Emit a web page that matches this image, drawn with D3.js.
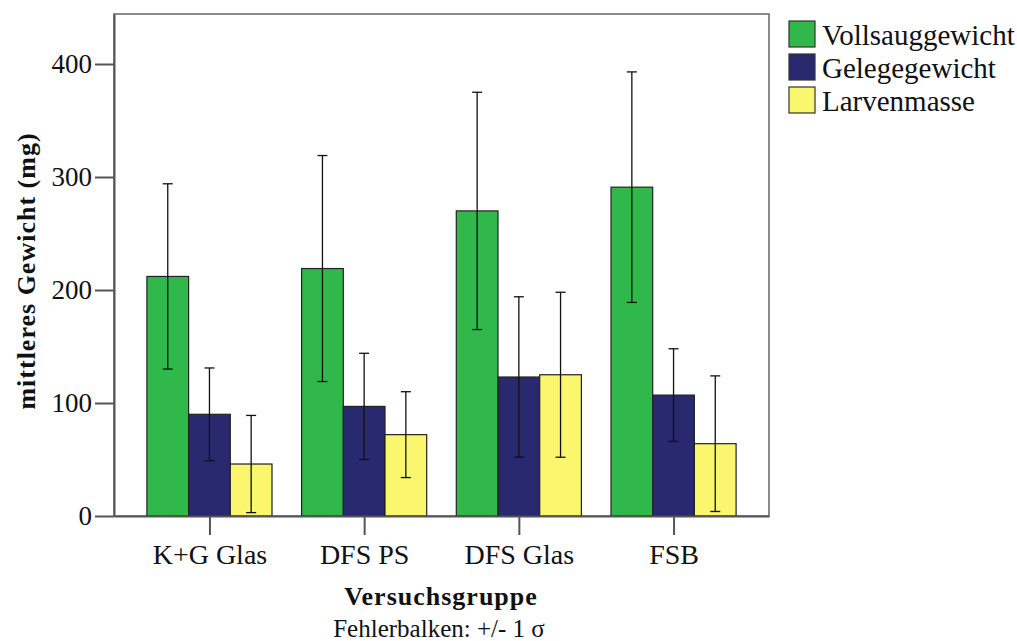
<!DOCTYPE html>
<html>
<head>
<meta charset="utf-8">
<script src="https://cdn.jsdelivr.net/npm/d3@7"></script>
<style>
  body { margin: 0; background: white; }
  text { font-family: "Liberation Serif", "Times New Roman", serif; fill: #111; }
</style>
</head>
<body>
<div id="chart"></div>
<script>
let w = 1017;
let h = 641;

// data
let groups = ["K+G Glas", "DFS PS", "DFS Glas", "FSB"];
let seriesNames = ["Vollsauggewicht", "Gelegegewicht", "Larvenmasse"];
let seriesColors = ["#31b84a", "#29296f", "#faf66e"];
let vollsaug = [212, 219, 270, 291];
let vollsaugSd = [82, 100, 105, 102];
let gelege = [90, 97, 123, 107];
let gelegeSd = [41, 47, 71, 41];
let larven = [46, 72, 125, 64];
let larvenSd = [43, 38, 73, 60];
let yTicks = [0, 100, 200, 300, 400];

let means = [vollsaug, gelege, larven];
let sds = [vollsaugSd, gelegeSd, larvenSd];

let pLeft = 114, pRight = 769, pTop = 14, pBottom = 516;

let svg = d3.select("#chart").append("svg")
  .attr("width", w)
  .attr("height", h);

let x = d3.scalePoint()
  .domain(groups)
  .range([pLeft, pRight])
  .padding(0.617);

let y = d3.scaleLinear()
  .domain([0, (pBottom - pTop) / 1.13])
  .range([pBottom, pTop]);

let barW = 41.7;

// frame
svg.append("rect")
  .attr("x", pLeft).attr("y", pTop)
  .attr("width", pRight - pLeft).attr("height", pBottom - pTop)
  .attr("fill", "none")
  .attr("stroke", "#666")
  .attr("stroke-width", 1.5);

// bars
let data = [];
groups.forEach((g, gi) => {
  seriesNames.forEach((s, si) => {
    data.push({group: g, si: si, mean: means[si][gi], sd: sds[si][gi]});
  });
});

let barX = d => x(d.group) + (d.si - 1.5) * barW;

svg.selectAll(".bar").data(data).enter()
  .append("rect")
  .attr("class", "bar")
  .attr("x", barX)
  .attr("y", d => y(d.mean))
  .attr("width", barW)
  .attr("height", d => y(0) - y(d.mean))
  .attr("fill", d => seriesColors[d.si])
  .attr("stroke", "#222")
  .attr("stroke-width", 1.2);

// error bars
let errs = svg.selectAll(".err").data(data).enter()
  .append("g").attr("class", "err")
  .attr("stroke", "#111")
  .attr("stroke-width", 1.3);

errs.append("line")
  .attr("x1", d => barX(d) + barW / 2).attr("x2", d => barX(d) + barW / 2)
  .attr("y1", d => y(d.mean + d.sd)).attr("y2", d => y(Math.max(0, d.mean - d.sd)));
errs.append("line")
  .attr("x1", d => barX(d) + barW / 2 - 5).attr("x2", d => barX(d) + barW / 2 + 5)
  .attr("y1", d => y(d.mean + d.sd)).attr("y2", d => y(d.mean + d.sd));
errs.append("line")
  .attr("x1", d => barX(d) + barW / 2 - 5).attr("x2", d => barX(d) + barW / 2 + 5)
  .attr("y1", d => y(Math.max(0, d.mean - d.sd))).attr("y2", d => y(Math.max(0, d.mean - d.sd)));

// axes
let yAxis = svg.append("g")
  .attr("transform", "translate(" + pLeft + ",0)")
  .call(d3.axisLeft(y).tickValues(yTicks).tickSizeInner(19).tickSizeOuter(0).tickPadding(3));
let xAxis = svg.append("g")
  .attr("transform", "translate(0," + pBottom + ")")
  .call(d3.axisBottom(x).tickSizeInner(19).tickSizeOuter(0).tickPadding(9));

[yAxis, xAxis].forEach(a => {
  a.select(".domain").attr("stroke", "#555").attr("stroke-width", 2);
  a.selectAll(".tick line").attr("stroke", "#555").attr("stroke-width", 2);
  a.selectAll("text")
    .attr("fill", "#111");
});
yAxis.selectAll("text").style("font-size", "27px");
xAxis.selectAll("text").style("font-size", "28px");

// titles
svg.append("text")
  .attr("transform", "translate(35," + ((pTop + pBottom) / 2 + 6) + ") rotate(-90)")
  .attr("text-anchor", "middle")
  .attr("font-size", 26)
  .attr("font-weight", "bold")
  .attr("letter-spacing", 1)
  .text("mittleres Gewicht (mg)");

svg.append("text")
  .attr("x", 441).attr("y", 605)
  .attr("text-anchor", "middle")
  .attr("font-size", 26)
  .attr("font-weight", "bold")
  .attr("letter-spacing", 1)
  .text("Versuchsgruppe");

svg.append("text")
  .attr("x", 439).attr("y", 637)
  .attr("text-anchor", "middle")
  .attr("font-size", 25)
  .text("Fehlerbalken: +/- 1 σ");

// legend
let legend = svg.selectAll(".legend").data(seriesNames).enter()
  .append("g").attr("class", "legend")
  .attr("transform", (d, i) => "translate(789," + (21 + i * 33) + ")");
legend.append("rect")
  .attr("width", 26).attr("height", 26)
  .attr("fill", (d, i) => seriesColors[i])
  .attr("stroke", "#333").attr("stroke-width", 1.2);
legend.append("text")
  .attr("x", 33).attr("y", 24)
  .attr("font-size", 29)
  .text(d => d);
</script>
</body>
</html>
